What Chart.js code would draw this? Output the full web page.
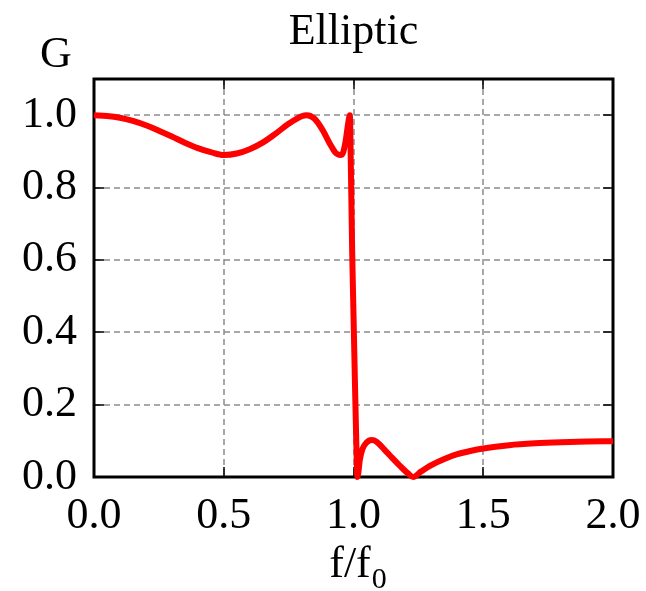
<!DOCTYPE html>
<html>
<head>
<meta charset="utf-8">
<script src="https://cdn.jsdelivr.net/npm/chart.js@4.4.1/dist/chart.umd.min.js"></script>
<style>
  html, body { margin: 0; padding: 0; background: #fff; }
  #wrap { width: 646px; height: 591px; }
</style>
</head>
<body>
<div id="wrap"><canvas id="chart" width="646" height="591"></canvas></div>
<script>
// f/f0 and gain G
var freq = [0, 0.05, 0.1, 0.15, 0.2, 0.25, 0.3, 0.35, 0.4, 0.45, 0.5, 0.55, 0.6, 0.65, 0.7, 0.75, 0.8, 0.82,
    0.85, 0.88, 0.91, 0.93, 0.95, 0.96, 0.97, 0.98, 0.986,
    0.99, 0.995, 1.0, 1.005, 1.01, 1.015,
    1.025, 1.035, 1.05, 1.07, 1.09, 1.12, 1.15, 1.18, 1.21, 1.23,
    1.26, 1.3, 1.35, 1.4, 1.45, 1.5, 1.6, 1.7, 1.8, 1.9, 2.0];
var gain = [1.0, 0.998, 0.993, 0.984, 0.972, 0.957, 0.941, 0.924, 0.909, 0.898, 0.890, 0.894, 0.906, 0.924, 0.949, 0.976, 0.997, 1.0,
    0.99, 0.96, 0.92, 0.897, 0.89, 0.897, 0.93, 0.98, 1.0,
    0.85, 0.62, 0.45, 0.28, 0.12, 0.0,
    0.05, 0.078, 0.095, 0.102, 0.097, 0.075, 0.052, 0.03, 0.01, 0.0,
    0.015, 0.033, 0.05, 0.063, 0.072, 0.079, 0.088, 0.093, 0.096, 0.098, 0.099];
var xTicks = [0, 0.5, 1.0, 1.5, 2.0];
var yTicks = [0, 0.2, 0.4, 0.6, 0.8, 1.0];

var points = [];
for (var i = 0; i < freq.length; i++) {
    points.push({x: freq[i], y: gain[i]});
}

var SERIF = '"Liberation Serif", "Times New Roman", serif';

// dashed grid, frame, inward ticks and the texts round the axes
var decor = {
    id: 'decor',
    beforeDatasetsDraw: function (chart) {
        var ctx = chart.ctx, a = chart.chartArea;
        var xs = chart.scales.x, ys = chart.scales.y;
        ctx.save();
        ctx.strokeStyle = '#8c8c8c';
        ctx.lineWidth = 1.5;
        ctx.setLineDash([6, 4]);
        xTicks.forEach(function (v) {
            var px = Math.round(xs.getPixelForValue(v));
            ctx.beginPath();
            ctx.moveTo(px, a.top); ctx.lineTo(px, a.bottom);
            ctx.stroke();
        });
        yTicks.forEach(function (v) {
            var py = Math.round(ys.getPixelForValue(v));
            ctx.beginPath();
            ctx.moveTo(a.left, py); ctx.lineTo(a.right, py);
            ctx.stroke();
        });
        ctx.setLineDash([]);
        ctx.strokeStyle = '#000';
        ctx.lineWidth = 1.5;
        xTicks.forEach(function (v) {
            var px = Math.round(xs.getPixelForValue(v));
            ctx.beginPath();
            ctx.moveTo(px, a.top); ctx.lineTo(px, a.top + 10);
            ctx.moveTo(px, a.bottom); ctx.lineTo(px, a.bottom - 10);
            ctx.stroke();
        });
        yTicks.forEach(function (v) {
            var py = Math.round(ys.getPixelForValue(v));
            ctx.beginPath();
            ctx.moveTo(a.left, py); ctx.lineTo(a.left + 10, py);
            ctx.moveTo(a.right, py); ctx.lineTo(a.right - 10, py);
            ctx.stroke();
        });
        ctx.lineWidth = 3;
        ctx.strokeRect(a.left, a.top, a.right - a.left, a.bottom - a.top);
        ctx.restore();
    },
    afterDraw: function (chart) {
        var ctx = chart.ctx, a = chart.chartArea;
        var cx = (a.left + a.right) / 2;
        ctx.save();
        ctx.fillStyle = '#000';
        ctx.textBaseline = 'alphabetic';
        ctx.textAlign = 'center';
        ctx.font = '44px ' + SERIF;
        ctx.fillText('Elliptic', cx, 44);
        ctx.fillText('G', 56, 67);
        // f/f0 with subscript
        ctx.textAlign = 'left';
        var w = ctx.measureText('f/f').width;
        ctx.font = '30px ' + SERIF;
        var ws = ctx.measureText('0').width;
        var x0 = cx + 4 - (w + ws) / 2;
        ctx.font = '44px ' + SERIF;
        ctx.fillText('f/f', x0, 577);
        ctx.font = '30px ' + SERIF;
        ctx.fillText('0', x0 + w + 1, 588);
        ctx.restore();
    }
};

new Chart(document.getElementById('chart').getContext('2d'), {
    type: 'line',
    data: {
        datasets: [{
            data: points,
            borderColor: '#ff0000',
            borderWidth: 6,
            pointRadius: 0,
            cubicInterpolationMode: 'monotone',
            fill: false,
            clip: 4
        }]
    },
    options: {
        responsive: false,
        animation: false,
        events: [],
        layout: {padding: {top: 79, right: 33, left: 0, bottom: 0}},
        plugins: {
            legend: {display: false},
            title: {display: false},
            tooltip: {enabled: false}
        },
        scales: {
            x: {
                type: 'linear',
                min: 0,
                max: 2,
                afterFit: function (scale) { scale.height = 114; },
                afterBuildTicks: function (scale) {
                    scale.ticks = xTicks.map(function (v) { return {value: v}; });
                },
                border: {display: false},
                grid: {display: false},
                ticks: {
                    color: '#000',
                    padding: 5,
                    font: {family: SERIF, size: 44},
                    callback: function (v) { return v.toFixed(1); }
                }
            },
            y: {
                min: 0,
                max: 1.1,
                afterFit: function (scale) { scale.width = 94; },
                afterBuildTicks: function (scale) {
                    scale.ticks = yTicks.map(function (v) { return {value: v}; });
                },
                border: {display: false},
                grid: {display: false},
                ticks: {
                    color: '#000',
                    padding: 9,
                    font: {family: SERIF, size: 44},
                    callback: function (v) { return v.toFixed(1); }
                }
            }
        }
    },
    plugins: [decor]
});
</script>
</body>
</html>
